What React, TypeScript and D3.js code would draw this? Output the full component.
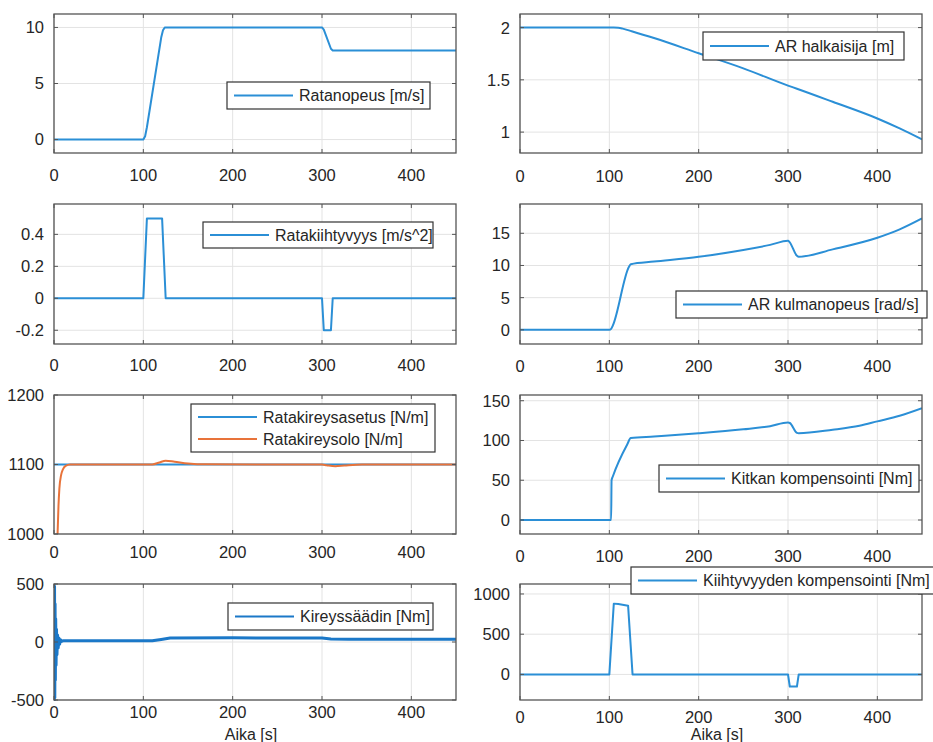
import React, { useRef, useEffect } from "react";
import * as d3 from "d3";

type Pt = [number, number];

/* time axis shared by every subplot */
const xTicks = [0, 100, 200, 300, 400];

/* series: [time s, value] */
const ratanopeus: Pt[] = [
  [0, 0], [100, 0], [102, 0.3], [104, 1.1], [120, 9.1], [122, 9.75], [124, 10],
  [300, 10], [302, 9.8], [310, 8.1], [312, 7.95], [450, 7.95],
];
const arHalkaisija: Pt[] = [
  [0, 2], [105, 2], [110, 1.998], [115, 1.99], [125, 1.965], [150, 1.9],
  [200, 1.755], [250, 1.61], [300, 1.445], [310, 1.415], [350, 1.29],
  [400, 1.13], [425, 1.035], [450, 0.93],
];
const ratakiihtyvyys: Pt[] = [
  [0, 0], [100, 0], [104, 0.5], [121, 0.5], [125, 0],
  [300, 0], [302, -0.2], [310, -0.2], [312, 0], [450, 0],
];
const arKulmanopeus: Pt[] = [
  [0, 0], [100, 0], [102, 0.15], [104, 0.7], [122, 9.8], [124, 10.2],
  [150, 10.6], [200, 11.35], [250, 12.4], [280, 13.2], [300, 13.85],
  [302, 13.6], [310, 11.5], [312, 11.35], [350, 12.5], [400, 14.3],
  [425, 15.6], [450, 17.3],
];
const kireysAsetus: Pt[] = [[0, 1100], [450, 1100]];
const kireysSolo: Pt[] = [
  [4, 1000], [5, 1040], [6, 1065], [8, 1085], [10, 1093], [13, 1098],
  [18, 1100], [110, 1100], [118, 1103], [125, 1105.5], [135, 1104],
  [150, 1101.5], [170, 1100.2], [300, 1100], [305, 1099], [315, 1097.5],
  [325, 1098.5], [345, 1100], [450, 1100],
];
const kitkanKompensointi: Pt[] = [
  [0, 0], [102, 0], [102.5, 50], [104, 55], [120, 95], [124, 103],
  [150, 105], [200, 109], [250, 114], [280, 118], [300, 122.5], [302, 122],
  [310, 109.5], [312, 109], [350, 113.5], [380, 118.5], [400, 124],
  [425, 131], [450, 140.5],
];
const kireyssaadin: Pt[] = [
  [0, 500], [0.3, -500], [0.6, 480], [0.9, -480], [1.2, 330], [1.5, -330],
  [1.9, 200], [2.3, -200], [2.8, 110], [3.3, -110], [4, 60], [4.7, -50],
  [5.5, 35], [6.3, -20], [7.2, 20], [8.5, 5], [10, 10], [110, 10],
  [120, 22], [130, 34], [200, 36], [300, 34], [310, 26], [330, 24], [450, 24],
];
const kiihtyvyydenKompensointi: Pt[] = [
  [0, 0], [100, 0], [105, 880], [110, 875], [121, 855], [126, 0],
  [300, 0], [302, -150], [310, -150], [312, 0], [450, 0],
];

const BLUE = "#2b8fd6";
const ORANGE = "#e8733a";

type Series = { data: Pt[]; color: string; name: string; width?: number; smooth?: boolean };
type Legend = { x: number; y: number; w: number; h: number };
type Panel = {
  left: number; right: number; top: number; bottom: number;
  yDomain: [number, number]; yTicks: number[];
  xLabelGap: number; series: Series[]; legend: Legend; xTitle?: boolean;
};

const L = { left: 54, right: 456 };
const R = { left: 520, right: 922 };

const panels: Panel[] = [
  { ...L, top: 14, bottom: 153, yDomain: [-1.2, 11.2], yTicks: [0, 5, 10], xLabelGap: 28,
    series: [{ data: ratanopeus, color: BLUE, name: "Ratanopeus [m/s]" }],
    legend: { x: 227, y: 82, w: 203, h: 27 } },
  { ...R, top: 14, bottom: 153, yDomain: [0.8, 2.13], yTicks: [1, 1.5, 2], xLabelGap: 29,
    series: [{ data: arHalkaisija, color: BLUE, name: "AR halkaisija [m]", smooth: true }],
    legend: { x: 703, y: 32, w: 201, h: 28 } },
  { ...L, top: 204, bottom: 344, yDomain: [-0.286, 0.59], yTicks: [-0.2, 0, 0.2, 0.4], xLabelGap: 27,
    series: [{ data: ratakiihtyvyys, color: BLUE, name: "Ratakiihtyvyys [m/s^2]" }],
    legend: { x: 203, y: 222, w: 230, h: 26 } },
  { ...R, top: 204, bottom: 344, yDomain: [-2.2, 19.55], yTicks: [0, 5, 10, 15], xLabelGap: 28,
    series: [{ data: arKulmanopeus, color: BLUE, name: "AR kulmanopeus [rad/s]", smooth: true }],
    legend: { x: 676, y: 291, w: 251, h: 27 } },
  { ...L, top: 395, bottom: 534, yDomain: [1000, 1200], yTicks: [1000, 1100, 1200], xLabelGap: 24,
    series: [
      { data: kireysAsetus, color: BLUE, name: "Ratakireysasetus [N/m]" },
      { data: kireysSolo, color: ORANGE, name: "Ratakireysolo [N/m]", smooth: true },
    ],
    legend: { x: 191, y: 404, w: 244, h: 48 } },
  { ...R, top: 395, bottom: 534, yDomain: [-17.6, 157.2], yTicks: [0, 50, 100, 150], xLabelGap: 28,
    series: [{ data: kitkanKompensointi, color: BLUE, name: "Kitkan kompensointi [Nm]", smooth: true }],
    legend: { x: 659, y: 465, w: 260, h: 27 } },
  { ...L, top: 584, bottom: 700, yDomain: [-500, 500], yTicks: [-500, 0, 500], xLabelGap: 18,
    series: [{ data: kireyssaadin, color: "#1b78c8", name: "Kireyssäädin [Nm]", width: 3 }],
    legend: { x: 228, y: 603, w: 205, h: 27 }, xTitle: true },
  { ...R, top: 584, bottom: 700, yDomain: [-318, 1124], yTicks: [0, 500, 1000], xLabelGap: 23,
    series: [{ data: kiihtyvyydenKompensointi, color: BLUE, name: "Kiihtyvyyden kompensointi [Nm]" }],
    legend: { x: 631, y: 567, w: 310, h: 27 }, xTitle: true },
];

const FONT = "'Liberation Sans', Arial, sans-serif";

const App = () => {
  const svgRef = useRef<SVGSVGElement | null>(null);

  useEffect(() => {
    const svg = d3.select(svgRef.current);
    svg.selectAll("*").remove();

    panels.forEach((p, i) => {
      const x = d3.scaleLinear().domain([0, 450]).range([p.left, p.right]);
      const y = d3.scaleLinear().domain(p.yDomain).range([p.bottom, p.top]);
      const g = svg.append("g");

      g.append("rect")
        .attr("x", p.left).attr("y", p.top)
        .attr("width", p.right - p.left).attr("height", p.bottom - p.top)
        .attr("fill", "#fff");

      /* grid */
      g.selectAll(".gx").data(xTicks).enter().append("line")
        .attr("x1", (d) => x(d)).attr("x2", (d) => x(d))
        .attr("y1", p.top).attr("y2", p.bottom)
        .attr("stroke", "#e3e3e3").attr("stroke-width", 1);
      g.selectAll(".gy").data(p.yTicks).enter().append("line")
        .attr("x1", p.left).attr("x2", p.right)
        .attr("y1", (d) => y(d)).attr("y2", (d) => y(d))
        .attr("stroke", "#e3e3e3").attr("stroke-width", 1);

      /* lines */
      const clipId = `clip-${i}`;
      svg.append("clipPath").attr("id", clipId).append("rect")
        .attr("x", p.left).attr("y", p.top - 1)
        .attr("width", p.right - p.left).attr("height", p.bottom - p.top + 2);
      p.series.forEach((s) => {
        const line = d3.line<Pt>()
          .x((d) => x(d[0])).y((d) => y(d[1]))
          .curve(s.smooth ? d3.curveMonotoneX : d3.curveLinear);
        g.append("path")
          .attr("d", line(s.data))
          .attr("fill", "none")
          .attr("stroke", s.color)
          .attr("stroke-width", s.width || 2)
          .attr("stroke-linejoin", "round")
          .attr("clip-path", `url(#${clipId})`);
      });

      /* inward tick marks */
      xTicks.forEach((t) => {
        g.append("line").attr("x1", x(t)).attr("x2", x(t))
          .attr("y1", p.bottom).attr("y2", p.bottom - 4).attr("stroke", "#555");
        g.append("line").attr("x1", x(t)).attr("x2", x(t))
          .attr("y1", p.top).attr("y2", p.top + 4).attr("stroke", "#555");
      });
      p.yTicks.forEach((t) => {
        g.append("line").attr("x1", p.left).attr("x2", p.left + 4)
          .attr("y1", y(t)).attr("y2", y(t)).attr("stroke", "#555");
        g.append("line").attr("x1", p.right).attr("x2", p.right - 4)
          .attr("y1", y(t)).attr("y2", y(t)).attr("stroke", "#555");
      });

      /* box */
      g.append("rect")
        .attr("x", p.left).attr("y", p.top)
        .attr("width", p.right - p.left).attr("height", p.bottom - p.top)
        .attr("fill", "none").attr("stroke", "#555").attr("stroke-width", 1.3);

      /* tick labels */
      g.selectAll(".xl").data(xTicks).enter().append("text")
        .attr("x", (d) => x(d)).attr("y", p.bottom + p.xLabelGap)
        .attr("text-anchor", "middle")
        .style("font-family", FONT).style("font-size", "16.5px").attr("fill", "#262626")
        .text((d) => d);
      g.selectAll(".yl").data(p.yTicks).enter().append("text")
        .attr("x", p.left - 10).attr("y", (d) => y(d)).attr("dy", "0.36em")
        .attr("text-anchor", "end")
        .style("font-family", FONT).style("font-size", "16.5px").attr("fill", "#262626")
        .text((d) => String(d));

      if (p.xTitle) {
        g.append("text")
          .attr("x", (p.left + p.right) / 2 - 4).attr("y", 740)
          .attr("text-anchor", "middle")
          .style("font-family", FONT).style("font-size", "16px").attr("fill", "#262626")
          .text("Aika [s]");
      }

      /* legend */
      const lg = p.legend;
      g.append("rect")
        .attr("x", lg.x).attr("y", lg.y).attr("width", lg.w).attr("height", lg.h)
        .attr("fill", "#fff").attr("stroke", "#333").attr("stroke-width", 1.2);
      const rowH = (lg.h - 4) / p.series.length;
      p.series.forEach((s, k) => {
        const cy = lg.y + 2 + rowH * (k + 0.5);
        g.append("line")
          .attr("x1", lg.x + 7).attr("x2", lg.x + 66)
          .attr("y1", cy).attr("y2", cy)
          .attr("stroke", s.color).attr("stroke-width", 2);
        g.append("text")
          .attr("x", lg.x + 72).attr("y", cy).attr("dy", "0.36em")
          .style("font-family", FONT).style("font-size", "16px").attr("fill", "#262626")
          .text(s.name);
      });
    });
  }, []);

  return (
    <svg
      ref={svgRef}
      width={933}
      height={742}
      style={{ position: "absolute", left: 0, top: 0, background: "#fff" }}
    ></svg>
  );
};

export default App;
